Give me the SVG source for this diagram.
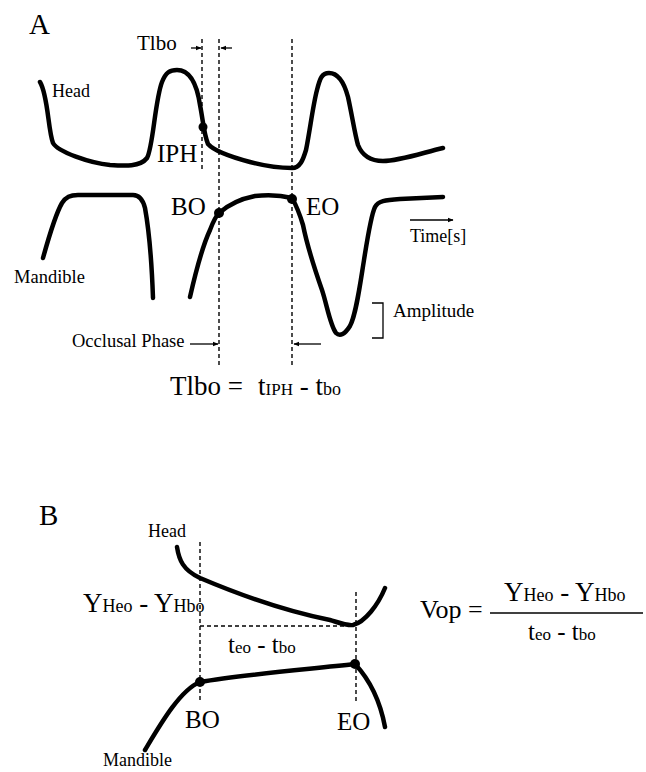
<svg xmlns="http://www.w3.org/2000/svg" width="646" height="772" viewBox="0 0 646 772">
<defs>
<marker id="ah" viewBox="0 0 10 10" refX="9" refY="5" markerWidth="6" markerHeight="6" markerUnits="userSpaceOnUse" orient="auto">
<path d="M0,1 L10,5 L0,9 z" fill="#000"/>
</marker>
</defs>
<style>
.t{font-family:"Liberation Serif","Times New Roman",serif;fill:#000}
.curve{fill:none;stroke:#000;stroke-width:4.5;stroke-linecap:round;stroke-linejoin:round}
.dash{stroke:#000;stroke-width:1.4;stroke-dasharray:4 3;fill:none}
.thin{stroke:#000;stroke-width:1.3;fill:none}
.dot{fill:#000}
</style>
<rect width="646" height="772" fill="#fff"/>

<g id="panelA">
<text class="t" x="29" y="34" font-size="29">A</text>
<text class="t" x="137" y="50" font-size="21">Tlbo</text>
</g>

<g id="connectors">
<!-- panel A dashed guides -->
<line class="dash" x1="202" y1="39" x2="202" y2="170"/>
<line class="dash" x1="219" y1="39" x2="219" y2="366"/>
<line class="dash" x1="292" y1="39" x2="292" y2="366"/>
<!-- Tlbo arrows -->
<line class="thin" x1="191" y1="48" x2="201" y2="48" marker-end="url(#ah)"/>
<line class="thin" x1="232" y1="48" x2="221" y2="48" marker-end="url(#ah)"/>
<!-- occlusal phase arrows -->
<line class="thin" x1="190" y1="344" x2="218" y2="344" marker-end="url(#ah)"/>
<line class="thin" x1="321" y1="344" x2="294" y2="344" marker-end="url(#ah)"/>
<!-- time arrow -->
<line class="thin" x1="410" y1="220" x2="453" y2="220" marker-end="url(#ah)"/>
<!-- amplitude bracket -->
<polyline class="thin" points="372,303 383,303 383,338 372,338"/>
<!-- panel B dashed guides -->
<line class="dash" x1="200" y1="542" x2="200" y2="703"/>
<line class="dash" x1="356" y1="592" x2="356" y2="703"/>
<line class="dash" x1="200" y1="626" x2="354" y2="626"/>
<!-- Vop fraction bar -->
<line stroke="#000" stroke-width="1.5" x1="490" y1="613" x2="643" y2="613"/>
</g>

<g id="headA">
<path class="curve" d="M40,82 C48,95 48,130 53,143 C58,152 90,163 110,165 C125,166 140,167 147,158 C153,148 155,100 162,82 C166,72 170,70 177,70 C190,70 197,85 200,105 C203,120 204,135 208,144 C215,152 235,158 250,162 C265,166 282,168 292,168 C300,168 303,160 306,150 C310,130 313,105 317,90 C320,78 322,73 329,73 C338,73 344,82 348,97 C352,115 355,135 358,145 C362,155 370,161 383,161 C400,161 425,152 443,148"/>
<circle class="dot" cx="203" cy="127" r="4.5"/>
<text class="t" x="52" y="97" font-size="18">Head</text>
<text class="t" x="157" y="162" font-size="25">IPH</text>
</g>

<g id="mandibleA">
<path class="curve" d="M43,258 C48,240 55,215 62,203 C66,197 70,195 78,195 L133,195 C140,195 143,200 145,208 C149,230 152,270 153,298"/>
<path class="curve" d="M190,297 C195,275 203,245 210,230 C213,222 215,217 219,213 C228,205 240,199 255,196 C265,195 280,195 292,198 C296,205 300,215 303,225 C307,245 315,270 322,290 C327,305 330,325 336,333 C340,337 345,334 350,326 C356,315 360,285 364,260 C368,235 371,215 375,207 C378,201 385,200 400,199 L443,197"/>
<circle class="dot" cx="219" cy="213" r="5"/>
<circle class="dot" cx="292" cy="199" r="5"/>
<text class="t" x="14" y="283" font-size="18.5">Mandible</text>
<text class="t" x="171" y="215" font-size="25">BO</text>
<text class="t" x="306" y="215" font-size="25">EO</text>
</g>

<g id="labelsA">
<text class="t" x="410" y="242" font-size="18">Time[s]</text>
<text class="t" x="72" y="347" font-size="18.5">Occlusal Phase</text>
<text class="t" x="393" y="317" font-size="19">Amplitude</text>
<text class="t" y="395" font-size="27"><tspan x="170">Tlbo =</tspan><tspan x="258">t</tspan><tspan font-size="17">IPH</tspan> - t<tspan font-size="18">bo</tspan></text>
</g>

<g id="panelB">
<text class="t" x="39" y="525" font-size="29">B</text>
</g>

<g id="headB">
<path class="curve" d="M177,547 C179,560 183,570 200,578 C240,595 290,612 330,620 C340,623 348,626 353,625 C365,622 378,605 385,588"/>
<text class="t" x="148" y="537" font-size="18">Head</text>
</g>

<g id="mandibleB">
<path class="curve" d="M145,750 C160,725 180,690 200,682 C240,675 300,670 355,664 C368,678 380,700 385,727"/>
<circle class="dot" cx="200" cy="682" r="5"/>
<circle class="dot" cx="355" cy="664" r="5"/>
<text class="t" x="185" y="728" font-size="25">BO</text>
<text class="t" x="337" y="730" font-size="25">EO</text>
<text class="t" x="103" y="766" font-size="18">Mandible</text>
</g>

<g id="labelsB">
<text class="t" x="83" y="612" font-size="27">Y<tspan font-size="18">Heo</tspan> - Y<tspan font-size="18">Hbo</tspan></text>
<text class="t" x="228" y="653" font-size="25">t<tspan font-size="17">eo</tspan> - t<tspan font-size="17">bo</tspan></text>
<text class="t" x="420" y="618" font-size="26">Vop =</text>
<text class="t" x="504" y="601" font-size="27">Y<tspan font-size="18">Heo</tspan> - Y<tspan font-size="18">Hbo</tspan></text>
<text class="t" x="528" y="640" font-size="25">t<tspan font-size="17">eo</tspan> - t<tspan font-size="17">bo</tspan></text>
</g>
</svg>
